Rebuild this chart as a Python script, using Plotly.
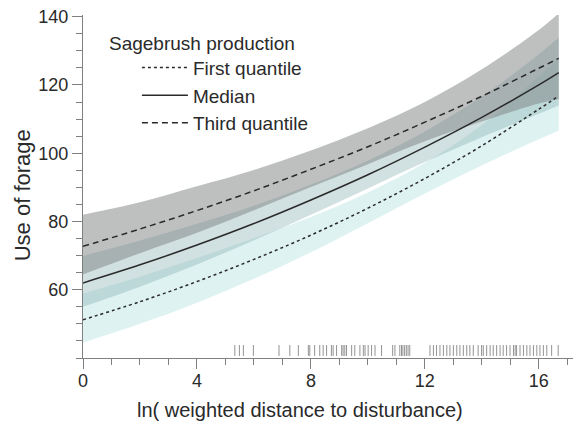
import plotly.graph_objects as go

# distance grid (ln of weighted distance to disturbance)
dist = [0, 2, 4, 6, 8, 10, 12, 14, 16, 16.7]

# fitted use of forage for each sagebrush production level
first_q = [51.2, 56.5, 62.4, 68.9, 76.0, 83.9, 92.6, 102.2, 112.9, 116.8]
first_lo = [44.5, 50.0, 56.2, 63.2, 71.0, 79.5, 88.2, 96.4, 104.1, 106.6]
first_hi = [58.9, 63.8, 69.3, 75.1, 81.3, 88.5, 97.2, 108.3, 122.5, 128.0]

median = [62.0, 67.3, 73.1, 79.4, 86.3, 93.7, 101.8, 110.5, 120.0, 123.6]
median_lo = [55.0, 60.9, 67.4, 74.5, 82.0, 89.7, 97.4, 104.7, 111.6, 114.0]
median_hi = [69.9, 74.4, 79.3, 84.6, 90.8, 97.9, 106.4, 116.6, 129.0, 134.0]

third_q = [72.7, 77.8, 83.2, 89.0, 95.3, 101.9, 109.1, 116.7, 124.9, 127.8]
third_lo = [64.5, 70.7, 76.7, 83.3, 90.1, 96.8, 103.5, 109.3, 114.6, 115.9]
third_hi = [82.0, 85.6, 90.3, 95.1, 100.8, 107.3, 115.0, 124.6, 136.1, 141.0]

# observed distances (rug)
rug_x = [5.33, 5.49, 5.63, 5.98,
         6.88, 7.26, 7.56, 7.91, 7.96, 8.13, 8.31, 8.43, 8.55, 8.72, 8.78, 8.90,
         9.08, 9.13, 9.19, 9.25, 9.43, 9.54, 9.72, 9.84, 9.90, 10.01, 10.13,
         10.25, 10.48,
         10.87, 10.95, 11.12, 11.18, 11.23, 11.29, 11.35, 11.41, 11.47,
         12.18, 12.30, 12.41, 12.53, 12.65, 12.77, 12.88, 13.00, 13.12, 13.23,
         13.35, 13.47, 13.58, 13.70, 13.87, 13.99, 14.05, 14.17, 14.29, 14.40,
         14.52, 14.64, 14.75, 14.87, 14.99, 15.11, 15.17, 15.22, 15.34, 15.46,
         15.58, 15.69, 15.81, 15.93, 16.04, 16.16, 16.28, 16.45, 16.68]

FONT = "Liberation Sans, Arial, sans-serif"
INK = "#2a2a2a"
AX = "#808080"

fig = go.Figure()

bands = [
    (first_lo, first_hi, "rgba(195,232,232,0.55)"),
    (median_lo, median_hi, "rgba(140,178,178,0.40)"),
    (third_lo, third_hi, "rgba(125,130,130,0.50)"),
]
for lo, hi, col in bands:
    fig.add_trace(go.Scatter(
        x=dist, y=lo, mode="lines", line=dict(width=0, shape="spline"),
        showlegend=False, hoverinfo="skip"))
    fig.add_trace(go.Scatter(
        x=dist, y=hi, mode="lines", fill="tonexty", fillcolor=col,
        line=dict(width=0, shape="spline"), showlegend=False,
        hoverinfo="skip"))

lines = [
    ("First quantile", first_q, "dot"),
    ("Median", median, "solid"),
    ("Third quantile", third_q, "6px,4px"),
]
for name, ys, dash in lines:
    fig.add_trace(go.Scatter(
        x=dist, y=ys, name=name, mode="lines",
        line=dict(color=INK, width=1.5, dash=dash, shape="spline")))

rx, ry = [], []
for v in rug_x:
    rx += [v, v, None]
    ry += [40.6, 43.8, None]
fig.add_trace(go.Scatter(x=rx, y=ry, mode="lines", showlegend=False,
                         line=dict(color="#777", width=0.8), hoverinfo="skip"))

# the page body adds an 8px offset, so margins are trimmed by 8
fig.update_layout(
    width=581, height=425,
    margin=dict(l=75, r=16, t=7, b=75),
    plot_bgcolor="white", paper_bgcolor="white",
    font=dict(family=FONT, size=18, color=INK),
    legend=dict(x=0.11, y=0.902, xanchor="left", yanchor="top",
                bgcolor="rgba(0,0,0,0)", font=dict(size=19),
                itemwidth=46, traceorder="normal"),
    annotations=[
        dict(text="Sagebrush production", x=0.049, y=0.918,
             xref="paper", yref="paper", xanchor="left", yanchor="middle",
             showarrow=False, font=dict(size=19, color=INK)),
        dict(text="ln( weighted distance to disturbance)", x=0.443, y=-0.152,
             xref="paper", yref="paper", xanchor="center", yanchor="middle",
             showarrow=False, font=dict(size=20, color=INK)),
        dict(text="Use of forage", x=-0.124, y=0.475, textangle=-90,
             xref="paper", yref="paper", xanchor="center", yanchor="middle",
             showarrow=False, font=dict(size=22, color=INK)),
    ],
)
fig.update_xaxes(
    range=[0, 17.2], tickvals=[0, 4, 8, 12, 16], ticks="outside",
    ticklen=10, tickcolor=AX, showline=True, linecolor=AX, linewidth=1,
    showgrid=False, zeroline=False, automargin=False,
    ticklabeloverflow="allow", ticklabelstandoff=-4,
    minor=dict(dtick=1, tick0=0, ticks="outside", ticklen=6, tickcolor=AX))
fig.update_yaxes(
    range=[40, 140.5], tickvals=[60, 80, 100, 120, 140], ticks="outside",
    ticklen=10, tickcolor=AX, showline=True, linecolor=AX, linewidth=1,
    showgrid=False, zeroline=False, automargin=False,
    ticklabeloverflow="allow",
    minor=dict(dtick=5, tick0=40, ticks="outside", ticklen=6, tickcolor=AX))

fig.write_html("out.html")
